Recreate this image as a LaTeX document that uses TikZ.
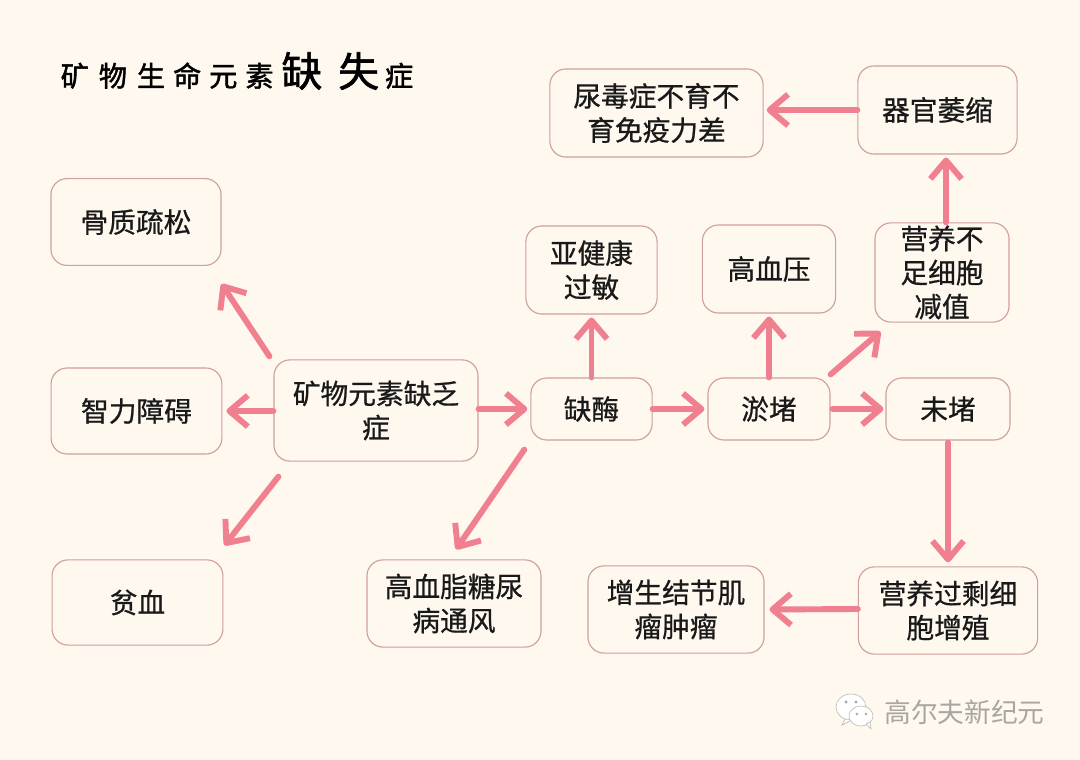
\documentclass[tikz,border=0pt]{standalone}
\usepackage{fontspec}
\setmainfont[FakeBold=0.7]{Noto Sans CJK SC}
\newfontfamily\titlefont[FakeBold=1.6]{Noto Sans CJK SC}
\newfontfamily\markfont{Noto Sans CJK SC}
\usetikzlibrary{arrows.meta}
\definecolor{paper}{HTML}{FEF8EF}
\definecolor{edge}{HTML}{CFA09C}
\definecolor{flowpink}{HTML}{F0808F}
\definecolor{markgrey}{HTML}{A9A6A1}
\tikzset{
	box/.style={draw=edge,line width=0.8pt,rounded corners=0.4cm,inner sep=1pt,align=center,text=black!90,font=\fontsize{19.7}{24.2}\selectfont},
	flow/.style={draw=flowpink,line width=4.2pt,line cap=round,-{Straight Barb[length=0.46cm,width=0.78cm,line join=round]}},
	bubble/.style={draw=markgrey!70,fill=white,line width=0.5pt}
}
\def\bigchar#1{{\fontsize{29}{29}\selectfont #1}}
\begin{document}
\begin{tikzpicture}[x=0.025cm,y=-0.025cm]
	\fill[paper] (0,0) rectangle (1080,760);
	\useasboundingbox (0,0) rectangle (1080,760);
	% title
	\node (heading) at (237,71) {\titlefont\fontsize{20}{20}\selectfont 矿\hspace{0.25cm}物\hspace{0.25cm}生\hspace{0.2cm}命\hspace{0.2cm}元\hspace{0.2cm}素\hspace{0.2cm}\bigchar{缺}\hspace{0.4cm}\bigchar{失}\hspace{0.15cm}症};
	% left column
	\node[box,minimum width=4.25cm,minimum height=2.17cm] (bone) at (136,222) {骨质疏松};
	\node[box,minimum width=4.27cm,minimum height=2.15cm] (mind) at (136.5,411) {智力障碍};
	\node[box,minimum width=4.27cm,minimum height=2.13cm] (anemia) at (137.5,602.5) {贫血};
	\node[box,minimum width=5.1cm,minimum height=2.53cm] (mineral) at (376,410.5) {矿物元素缺乏\\症};
	% middle row
	\node[box,minimum width=3.03cm,minimum height=1.55cm] (enzyme) at (591.5,409) {缺酶};
	\node[box,minimum width=3.05cm,minimum height=1.55cm] (clog) at (769,409) {淤堵};
	\node[box,minimum width=3.1cm,minimum height=1.55cm] (clear) at (948,409) {未堵};
	% upper row
	\node[box,minimum width=3.28cm,minimum height=2.2cm] (allergy) at (591.5,270) {亚健康\\过敏};
	\node[box,minimum width=3.33cm,minimum height=2.2cm] (pressure) at (769,269) {高血压};
	\node[box,minimum width=3.35cm,minimum height=2.48cm] (lack) at (942,272.5) {营养不\\足细胞\\减值};
	\node[box,minimum width=3.98cm,minimum height=2.2cm] (organ) at (937.5,110) {器官萎缩};
	\node[box,minimum width=5.33cm,minimum height=2.2cm] (uremia) at (656.5,113) {尿毒症不育不\\育免疫力差};
	% lower row
	\node[box,minimum width=4.35cm,minimum height=2.18cm] (lipid) at (454,603.5) {高血脂糖尿\\病通风};
	\node[box,minimum width=4.4cm,minimum height=2.18cm] (tumor) at (676,609.5) {增生结节肌\\瘤肿瘤};
	\node[box,minimum width=4.48cm,minimum height=2.18cm] (excess) at (948,610.5) {营养过剩细\\胞增殖};
	% connectors
	\draw[flow] ([shift={(-4,-3)}]mineral.north west) -- ([shift={(0,18)}]bone.south east);
	\draw[flow] ([shift={(0,0.5)}]mineral.west) -- ([shift={(4,0)}]mind.east);
	\draw[flow] ([shift={(5,15)}]mineral.south west) -- ([shift={(1,-14)}]anemia.north east);
	\draw[flow] ([shift={(0,-1.5)}]mineral.east) -- ([shift={(-3,0)}]enzyme.west);
	\draw[flow] (enzyme.north) -- ([shift={(0,3)}]allergy.south);
	\draw[flow] (enzyme.east) -- ([shift={(-3,0)}]clog.west);
	\draw[flow] ([shift={(-6,9)}]enzyme.south west) -- ([shift={(2,-10)}]lipid.north);
	\draw[flow] (clog.north) -- ([shift={(0,3)}]pressure.south);
	\draw[flow] ([shift={(0,-3)}]clog.north east) -- ([shift={(6,9)}]lack.south west);
	\draw[flow] ([shift={(2,0)}]clog.east) -- ([shift={(-2,0)}]clear.west);
	\draw[flow] ([shift={(0,2)}]clear.south) -- ([shift={(0,-4)}]excess.north);
	\draw[flow] ([shift={(4,0)}]lack.north) -- ([shift={(8.5,3)}]organ.south);
	\draw[flow] (organ.west) -- ([shift={(3,-3)}]uremia.east);
	\draw[flow] ([shift={(0,-1.5)}]excess.west) -- ([shift={(5,0)}]tumor.east);
	% watermark
	\fill[bubble] (851,707) ellipse (15 and 13);
	\fill[bubble] (845,719) -- (842,725) -- (852,720) -- cycle;
	\fill[bubble] (861,716) ellipse (12 and 10);
	\fill[bubble] (866,724) -- (871,729) -- (870,722) -- cycle;
	\fill[markgrey] (846,702) circle (1.6) (856,702) circle (1.6) (857,714) circle (1.4) (866,714) circle (1.4);
	\node[text=markgrey] (mark) at (964.5,712) {\markfont\fontsize{19}{19}\selectfont 高尔夫新纪元};
\end{tikzpicture}
\end{document}
